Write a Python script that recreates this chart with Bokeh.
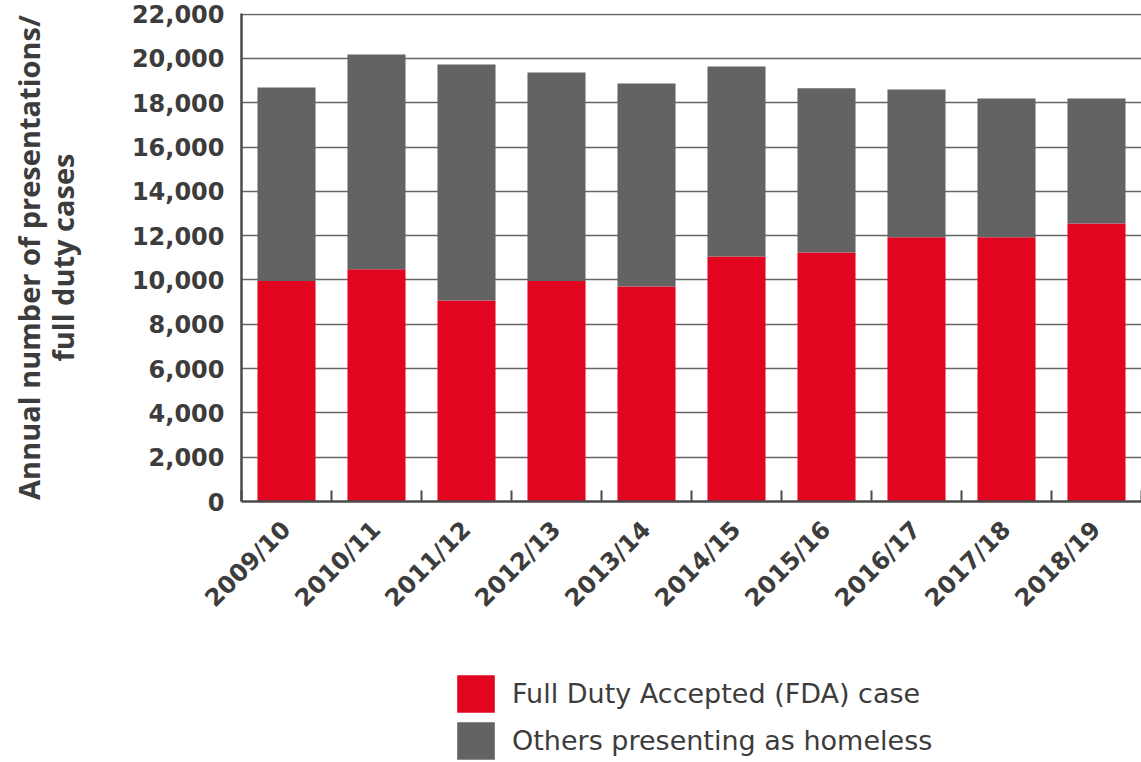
import numpy as np
from bokeh.plotting import figure
from bokeh.layouts import column
from bokeh.models import (Range1d, FixedTicker, NumeralTickFormatter, Legend, LegendItem,
                          ColumnDataSource)
from bokeh.embed import file_html
from bokeh.resources import INLINE

years = ["2009/10", "2010/11", "2011/12", "2012/13", "2013/14",
         "2014/15", "2015/16", "2016/17", "2017/18", "2018/19"]
totals = [18690, 20180, 19730, 19370, 18870, 19640, 18650, 18600, 18190, 18190]
fda = [9950, 10490, 9075, 9950, 9710, 11060, 11240, 11930, 11930, 12550]
others = [t - f for t, f in zip(totals, fda)]
y_ticks = list(range(0, 22001, 2000))
series_labels = ["Full Duty Accepted (FDA) case", "Others presenting as homeless"]

RED = "#E2051F"
GREY = "#636363"
TXT = "#3c3c3c"
FONT = "DejaVu Sans"
FONT2 = "Open Sans"

n = len(years)
xpos = [i + 0.5 for i in range(n)]
src = ColumnDataSource(dict(x=xpos, fda=fda, others=others))

p = figure(frame_width=900, frame_height=488, min_border_left=241, min_border_top=13,
           min_border_right=0, min_border_bottom=159,
           x_range=Range1d(0, n), y_range=Range1d(0, 22030),
           output_backend="svg", toolbar_location=None)

rs = p.vbar_stack(["fda", "others"], x="x", width=0.645, source=src,
                  color=[RED, GREY], line_color=None)

p.outline_line_color = None
p.background_fill_color = "white"

# x axis
xa = p.xaxis[0]
xa.ticker = FixedTicker(ticks=xpos, minor_ticks=list(range(n + 1)))
xa.major_label_overrides = {x: y for x, y in zip(xpos, years)}
xa.major_label_orientation = np.pi / 4
xa.major_tick_line_color = None
xa.minor_tick_in = 11
xa.minor_tick_out = 0
xa.minor_tick_line_color = "#4a4a4a"
xa.minor_tick_line_width = 2
xa.axis_line_color = "#4a4a4a"
xa.axis_line_width = 2.5
xa.major_label_text_font = FONT
xa.major_label_text_font_style = "bold"
xa.major_label_text_font_size = "24px"
xa.major_label_text_color = TXT
xa.major_label_standoff = 18

# y axis
ya = p.yaxis[0]
ya.ticker = FixedTicker(ticks=y_ticks)
ya.formatter = NumeralTickFormatter(format="0,0")
ya.major_tick_line_color = None
ya.minor_tick_line_color = None
ya.axis_line_color = "#4a4a4a"
ya.axis_line_width = 2.5
ya.major_label_text_font = FONT
ya.major_label_text_font_style = "bold"
ya.major_label_text_font_size = "24px"
ya.major_label_text_color = TXT
ya.major_label_standoff = 11
ya.axis_label = "Annual number of presentations/\nfull duty cases"
ya.axis_label_text_font = FONT2
ya.axis_label_text_font_style = "bold"
ya.axis_label_text_font_size = "29px"
ya.axis_label_text_line_height = 0.86
ya.axis_label_text_color = TXT
ya.axis_label_standoff = 47

p.xgrid.grid_line_color = None
p.ygrid.grid_line_color = "#666666"
p.ygrid.grid_line_width = 1.6
p.ygrid.ticker = FixedTicker(ticks=y_ticks)

# legend panel below the chart (same series; its bars have no width so only the legend shows)
p2 = figure(frame_width=900, frame_height=102, min_border_left=241, min_border_right=0,
            min_border_top=0, min_border_bottom=0,
            x_range=Range1d(0, n), y_range=Range1d(-2, -1),
            output_backend="svg", toolbar_location=None,
            x_axis_type=None, y_axis_type=None)
p2.outline_line_color = None
p2.grid.visible = False
rs2 = p2.vbar_stack(["fda", "others"], x="x", width=0, source=src,
                    color=[RED, GREY], line_color=None)
legend = Legend(items=[LegendItem(label=series_labels[0], renderers=[rs2[0]]),
                       LegendItem(label=series_labels[1], renderers=[rs2[1]])],
                location=(211, -2), orientation="vertical",
                glyph_width=47, glyph_height=47, spacing=0, label_standoff=13,
                padding=0, margin=0, border_line_color=None, background_fill_alpha=0,
                label_text_font=FONT, label_text_font_size="27px", label_text_color=TXT,
                label_height=38)
p2.add_layout(legend)

layout = column(p, p2, spacing=0)
open("out.html", "w").write(file_html(layout, INLINE))
